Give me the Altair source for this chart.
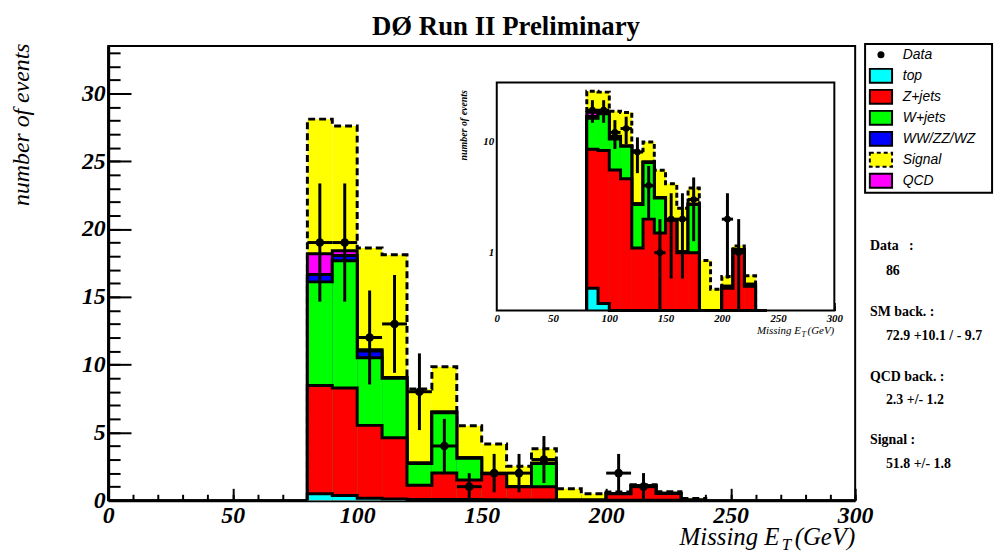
import altair as alt
import numpy as np
import pandas as pd

# ---------------- data ----------------
bin_lo = [80, 90, 100, 110, 120, 130, 140, 150, 160, 170, 180, 190, 200, 210, 220, 230]
BIN_W = 10
top_mc  = [0.48, 0.35, 0.15, 0.10, 0.05, 0.05, 0.05, 0.03, 0.02, 0.02, 0, 0, 0, 0, 0, 0]
zjets   = [7.98, 7.92, 5.37, 4.50, 1.05, 1.95, 1.45, 1.92, 0.98, 0.98, 0, 0, 0.48, 1.05, 0.50, 0]
wjets   = [7.64, 9.38, 4.98, 4.40, 1.60, 4.45, 1.60, 0.00, 0.00, 1.70, 0, 0, 0, 0, 0, 0]
diboson = [0.55, 0.40, 0.50, 0.05, 0.05, 0.05, 0.03, 0.02, 0.02, 0.02, 0, 0, 0.02, 0.02, 0.02, 0]
qcd     = [1.52, 0.35, 0.10, 0, 0, 0, 0, 0, 0, 0, 0, 0, 0, 0, 0, 0]
signal  = [9.93, 9.20, 7.50, 9.05, 5.45, 3.35, 2.37, 2.18, 1.48, 1.08, 0.85, 0.47, 0.11, 0.08, 0.10, 0.12]
data_n  = [19, 19, 12, 13, 8, 4, 1, 2, 2, 3, 0, 0, 2, 1, 0, 0]

stack_names = ["top", "Z+jets", "W+jets", "WW/ZZ/WZ", "QCD", "Signal"]
stack_series = [top_mc, zjets, wjets, diboson, qcd, signal]
stack_colors = ["#00ffff", "#ff0000", "#00ff00", "#0000ff", "#ff00ff", "#ffff00"]

legend_names = ["Data", "top", "Z+jets", "W+jets", "WW/ZZ/WZ", "Signal", "QCD"]
legend_colors = ["#000000", "#00ffff", "#ff0000", "#00ff00", "#0000ff", "#ffff00", "#ff00ff"]

x_major = [0, 50, 100, 150, 200, 250, 300]
x_minor = list(range(0, 301, 10))
y_major = [0, 5, 10, 15, 20, 25, 30]
y_minor = list(range(0, 34))
in_y_major = [1, 10]
in_y_minor = [0.4, 0.5, 0.6, 0.7, 0.8, 0.9, 2, 3, 4, 5, 6, 7, 8, 9, 20, 30]

summary_labels = ["Data\u00a0\u00a0\u00a0:", "SM back. :", "QCD back. :", "Signal :"]
summary_values = ["86", "72.9 +10.1 / - 9.7", "2.3 +/- 1.2", "51.8 +/- 1.8"]

# ---------------- layout ----------------
W, H = 753, 458
Y_MAX = 33.5
IX0, IX1 = 391.7, 732.0
IY_TOP, IY_BOT = 37.0, 266.7
IN_YMIN, IN_YMAX = 0.303, 33.6
SERIF = "Liberation Serif"
SANS = "Liberation Sans"

cum = np.cumsum(np.array(stack_series, dtype=float), axis=0)


def step_frame(level, floor=None):
    xs = [bin_lo[0]] + list(bin_lo) + [bin_lo[-1] + BIN_W]
    ys = np.array([0.0] + list(level) + [0.0])
    if floor is not None:
        ys = np.maximum(ys, floor)
    return pd.DataFrame({"x": xs, "y": ys, "seq": range(len(xs))})


def bin_frame(level, floor):
    lo = np.array(bin_lo, dtype=float)
    return pd.DataFrame({"lo": lo, "hi": lo + BIN_W, "y": np.maximum(np.array(level), floor)})


nd = np.array(data_n, dtype=float)
mask = nd > 0
centers = np.array(bin_lo, dtype=float) + BIN_W / 2
pts = pd.DataFrame({
    "x": centers[mask], "n": nd[mask],
    "lo": nd[mask] - np.sqrt(nd[mask]), "hi": nd[mask] + np.sqrt(nd[mask]),
    "xl": centers[mask] - BIN_W / 2, "xh": centers[mask] + BIN_W / 2,
})
pts_in = pts.copy()
pts_in["lo"] = np.maximum(pts_in["lo"], 0.2)

dummy = pd.DataFrame({"x": [1.0], "y": [1.0]})
one = pd.DataFrame({"k": [0]})


def text_layer(txt, x, y, size, style="normal", weight="normal", font=SERIF, align="left"):
    return alt.Chart(one).mark_text(font=font, fontSize=size, fontStyle=style, fontWeight=weight,
                                    align=align, baseline="alphabetic", color="black").encode(
        x=alt.value(x), y=alt.value(y), text=alt.value(txt))


# ---------------- main plot ----------------
xs_main = alt.Scale(domain=[0, 300], nice=False, zero=False)
ys_main = alt.Scale(domain=[0, Y_MAX], nice=False, zero=False)

main_layers = []
for i in reversed(range(len(stack_names))):
    df = step_frame(cum[i])
    enc = dict(x=alt.X("x:Q", scale=xs_main, axis=None),
               y=alt.Y("y:Q", scale=ys_main, axis=None),
               order=alt.Order("seq:Q"))
    main_layers.append(alt.Chart(df).mark_area(interpolate="step-after", color=stack_colors[i],
                                               opacity=1, orient="vertical").encode(**enc))
    lk = dict(interpolate="step-after", color="black", strokeWidth=3)
    if stack_names[i] == "Signal":
        lk["strokeDash"] = [7, 4]
    main_layers.append(alt.Chart(df).mark_line(**lk).encode(**enc))

pbase = alt.Chart(pts)
main_layers += [
    pbase.mark_rule(color="black", strokeWidth=3).encode(
        x=alt.X("x:Q", scale=xs_main, axis=None), y=alt.Y("lo:Q", scale=ys_main, axis=None), y2="hi:Q"),
    pbase.mark_rule(color="black", strokeWidth=3).encode(
        x=alt.X("xl:Q", scale=xs_main, axis=None), x2="xh:Q", y=alt.Y("n:Q", scale=ys_main, axis=None)),
    pbase.mark_point(shape="circle", filled=True, color="black", size=75, opacity=1).encode(
        x=alt.X("x:Q", scale=xs_main, axis=None), y=alt.Y("n:Q", scale=ys_main, axis=None)),
]

lab_font = dict(labelFont=SERIF, labelFontStyle="italic", labelFontWeight="bold", labelColor="black",
                labelFlush=False, labelOverlap=False, grid=False)
ax_lab = alt.Chart(dummy).mark_point(opacity=0).encode(
    x=alt.X("x:Q", scale=xs_main, axis=alt.Axis(
        values=x_major, ticks=False, tickSize=0, labelFontSize=24, labelPadding=3,
        domain=True, domainColor="black", domainWidth=3, title=None, **lab_font)),
    y=alt.Y("y:Q", scale=ys_main, axis=alt.Axis(
        values=y_major, ticks=False, tickSize=0, labelFontSize=24, labelPadding=3,
        domain=True, domainColor="black", domainWidth=3,
        title="number of events", titleFont=SERIF, titleFontSize=24, titleFontStyle="italic",
        titleFontWeight="normal", titleColor="black", titleAngle=270, titleAlign="right",
        titleBaseline="middle", titleX=-87, titleY=-3, **lab_font)),
)


def tick_axis_layer(xvals, yvals, xlen, ylen, xs, ys, xoff, yoff):
    return alt.Chart(dummy).mark_point(opacity=0).encode(
        x=alt.X("x:Q", scale=xs, axis=alt.Axis(
            orient="top", offset=xoff, values=xvals, tickSize=xlen, tickWidth=2, tickColor="black",
            labels=False, domain=False, grid=False, title=None)),
        y=alt.Y("y:Q", scale=ys, axis=alt.Axis(
            orient="right", offset=yoff, values=yvals, tickSize=ylen, tickWidth=2, tickColor="black",
            labels=False, domain=False, grid=False, title=None)),
    )


main_layers += [
    ax_lab,
    tick_axis_layer(x_major, y_major, 12, 23, xs_main, ys_main, -H, -W),
    tick_axis_layer(x_minor, y_minor, 6, 12, xs_main, ys_main, -H, -W),
    text_layer("DØ Run II Preliminary", 401, -11, 27, weight="bold", align="center"),
    text_layer("Missing E", 576, 503, 25, style="italic"),
    text_layer("T", 679, 508, 17, style="italic"),
    text_layer("(GeV)", 692, 503, 25, style="italic"),
]
label_y = [206, 272, 338, 401]
value_y = [231, 296, 361, 426]
for lab, ly in zip(summary_labels, label_y):
    main_layers.append(text_layer(lab, 768, ly, 14, weight="bold"))
for val, vy in zip(summary_values, value_y):
    main_layers.append(text_layer(val, 784, vy, 14, weight="bold"))

main = alt.layer(*main_layers).resolve_axis(x="independent", y="independent")

# ---------------- inset (log scale) ----------------
xs_in = alt.Scale(domain=[0, 300], range=[IX0, IX1], nice=False, zero=False)
ys_in = alt.Scale(type="log", domain=[IN_YMIN, IN_YMAX], range=[IY_BOT, IY_TOP], nice=False, clamp=True)

in_layers = [
    alt.Chart(one).mark_rect(fill="white").encode(
        x=alt.XDatum(0, scale=xs_in, axis=None), x2=alt.X2Datum(300),
        y=alt.YDatum(IN_YMIN, scale=ys_in, axis=None), y2=alt.Y2Datum(IN_YMAX)),
]
for i in reversed(range(len(stack_names))):
    bdf = bin_frame(cum[i], 0.2)
    in_layers.append(alt.Chart(bdf).mark_rect(color=stack_colors[i], stroke=stack_colors[i],
                                              strokeWidth=0.6, opacity=1).encode(
        x=alt.X("lo:Q", scale=xs_in, axis=None), x2="hi:Q",
        y=alt.Y("y:Q", scale=ys_in, axis=None), y2=alt.Y2Datum(IN_YMIN)))
    df = step_frame(cum[i], floor=0.2)
    lk = dict(interpolate="step-after", color="black", strokeWidth=3)
    if stack_names[i] == "Signal":
        lk["strokeDash"] = [5, 3]
    in_layers.append(alt.Chart(df).mark_line(**lk).encode(
        x=alt.X("x:Q", scale=xs_in, axis=None),
        y=alt.Y("y:Q", scale=ys_in, axis=None),
        order=alt.Order("seq:Q")))

pib = alt.Chart(pts_in)
in_layers += [
    pib.mark_rule(color="black", strokeWidth=3).encode(
        x=alt.X("x:Q", scale=xs_in, axis=None), y=alt.Y("lo:Q", scale=ys_in, axis=None), y2="hi:Q"),
    pib.mark_rule(color="black", strokeWidth=3).encode(
        x=alt.X("xl:Q", scale=xs_in, axis=None), x2="xh:Q", y=alt.Y("n:Q", scale=ys_in, axis=None)),
    pib.mark_point(shape="circle", filled=True, color="black", size=45, opacity=1).encode(
        x=alt.X("x:Q", scale=xs_in, axis=None), y=alt.Y("n:Q", scale=ys_in, axis=None)),
]

in_ax_lab = alt.Chart(dummy).mark_point(opacity=0).encode(
    x=alt.X("x:Q", scale=xs_in, axis=alt.Axis(
        orient="bottom", offset=-(H - IY_BOT), values=x_major, ticks=False, tickSize=0,
        labelFontSize=11, labelPadding=2, domain=False, title=None, **lab_font)),
    y=alt.Y("y:Q", scale=ys_in, axis=alt.Axis(
        orient="left", offset=-IX0, values=in_y_major, ticks=False, tickSize=0, format="d",
        labelFontSize=11, labelPadding=3, domain=False,
        title="number of events", titleFont=SERIF, titleFontSize=10, titleFontStyle="italic",
        titleFontWeight="bold", titleColor="black", titleAngle=270, titleAlign="right",
        titleBaseline="middle", titleX=-33, titleY=44, **lab_font)),
)
in_layers += [
    in_ax_lab,
    tick_axis_layer(x_major, in_y_major, 8, 10, xs_in, ys_in, -IY_BOT, -(W - IX0)),
    tick_axis_layer(x_minor, in_y_minor, 4, 5, xs_in, ys_in, -IY_BOT, -(W - IX0)),
    alt.Chart(one).mark_rect(filled=False, stroke="black", strokeWidth=2).encode(
        x=alt.XDatum(0, scale=xs_in, axis=None), x2=alt.X2Datum(300),
        y=alt.YDatum(IN_YMIN, scale=ys_in, axis=None), y2=alt.Y2Datum(IN_YMAX)),
    text_layer("Missing E", 654, 290, 11, style="italic"),
    text_layer("T", 699, 293, 8, style="italic"),
    text_layer("(GeV)", 705, 290, 11, style="italic"),
]
inset = alt.layer(*in_layers).resolve_axis(x="independent", y="independent")

# ---------------- legend ----------------
leg_df = pd.DataFrame({"name": legend_names, "color": legend_colors})
ys_leg = alt.Scale(type="point", domain=legend_names, range=[9, 136], padding=0)
RECT_PATH = "M-1.6,-1L1.6,-1L1.6,1L-1.6,1Z"
leg_layers = [
    alt.Chart(one).mark_rect(fill="white", stroke="black", strokeWidth=2).encode(
        x=alt.value(763), x2=alt.value(891), y=alt.value(-2), y2=alt.value(148)),
    alt.Chart(leg_df).transform_filter(
        alt.FieldOneOfPredicate(field="name", oneOf=["top", "Z+jets", "W+jets", "WW/ZZ/WZ", "QCD"])
    ).mark_point(shape=RECT_PATH, filled=True, size=196, stroke="black", strokeWidth=2, opacity=1).encode(
        x=alt.value(779), y=alt.Y("name:N", scale=ys_leg, axis=None),
        fill=alt.Fill("color:N", scale=None, legend=None)),
    alt.Chart(leg_df).transform_filter(alt.datum.name == "Signal").mark_point(
        shape=RECT_PATH, filled=True, size=196, stroke="black", strokeWidth=2, strokeDash=[4, 3], opacity=1).encode(
        x=alt.value(779), y=alt.Y("name:N", scale=ys_leg, axis=None),
        fill=alt.Fill("color:N", scale=None, legend=None)),
    alt.Chart(leg_df).transform_filter(alt.datum.name == "Data").mark_point(
        shape="circle", filled=True, size=50, color="black", opacity=1).encode(
        x=alt.value(779), y=alt.Y("name:N", scale=ys_leg, axis=None)),
    alt.Chart(leg_df).mark_text(font=SANS, fontSize=14, fontStyle="italic", align="left",
                                baseline="middle", color="black").encode(
        x=alt.value(801), y=alt.Y("name:N", scale=ys_leg, axis=None), text="name:N"),
]
legend = alt.layer(*leg_layers)

chart = alt.layer(main, inset, legend).resolve_scale(
    x="independent", y="independent").resolve_axis(x="independent", y="independent").properties(
    width=W, height=H,
    autosize=alt.AutoSizeParams(type="none"),
    padding={"left": 101, "top": 36, "right": 146, "bottom": 52},
    background="white",
).configure_view(stroke="black", strokeWidth=2)

chart.save("out.html", embed_options={"renderer": "svg", "actions": False})
